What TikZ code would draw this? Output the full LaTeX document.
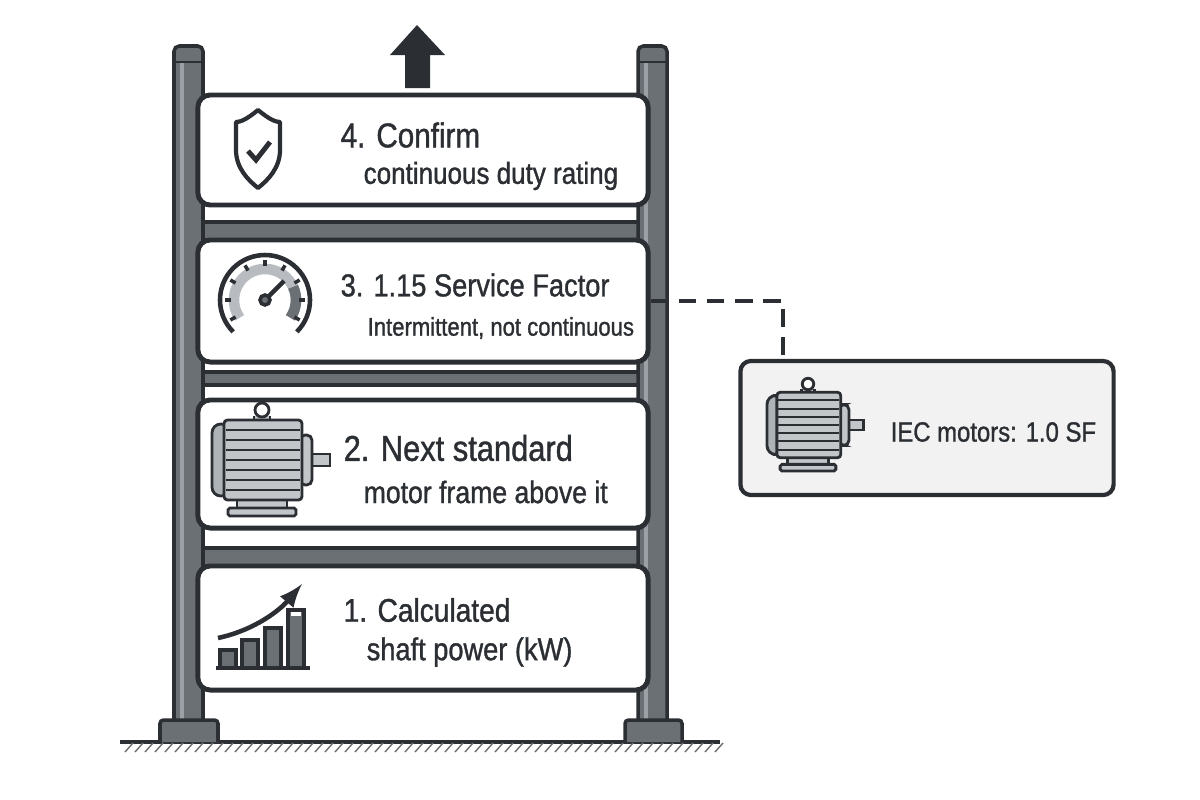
\documentclass[tikz,border=0pt]{standalone}
\usepackage{fontspec}
\setmainfont{Liberation Sans}[FakeStretch=0.86,FakeBold=1.1]
\usetikzlibrary{calc,positioning}
\definecolor{ink}{HTML}{2B2F33}
\definecolor{steel}{HTML}{6B7075}
\definecolor{steellight}{HTML}{9AA0A5}
\definecolor{boxgray}{HTML}{F2F2F2}
\tikzset{
  panel/.style={draw=ink,line width=1.4pt,fill=white,rounded corners=3.5pt,minimum width=4.5cm,minimum height=#1,inner sep=0},
  title/.style={anchor=west,text=ink,inner sep=0,font=\fontsize{#1}{10}\selectfont},
  sub/.style={anchor=west,text=ink,inner sep=0,font=\fontsize{#1}{9}\selectfont},
  post/.style={draw=ink,line width=1pt,fill=steel},
  motor/.pic={
    \draw[ink,line width=0.8pt,fill=steellight!60] (-8,-44) -- (-8,-40) -- (8,-40) -- (8,-44);
    \draw[ink,line width=0.8pt,fill=white] (0,-50) circle (7);
    \draw[ink,line width=0.8pt,fill=steellight!60] (-25,38) rectangle (25,48);
    \draw[ink,line width=0.8pt,fill=steellight!60,rounded corners=0.5pt] (-34,48) rectangle (34,56);
    \draw[ink,line width=0.8pt,fill=steellight!60] (48,-6) rectangle (68,6);
    \draw[ink,line width=0.8pt,fill=steellight!60,rounded corners=1.5pt] (38,-25) rectangle (50,25);
    \draw[ink,line width=0.8pt,fill=steellight!80,rounded corners=2.5pt] (-50,-36) rectangle (-32,36);
    \draw[ink,line width=0.8pt,fill=steellight!60,rounded corners=1pt] (-38,-40) rectangle (40,40);
    \foreach \f in {-30,-20,...,30}
      \draw[ink,line width=0.6pt] (-36,\f) -- (38,\f);
  }
}
\begin{document}
\begin{tikzpicture}[x=0.01cm,y=-0.01cm]
\useasboundingbox (0,0) rectangle (1200,800);

% ground
\draw[ink,line width=1pt] (120,742) -- (720,742);
\foreach \h in {125,135,...,715}
  \draw[ink!70,line width=0.4pt] (\h,752) -- (\h+8,743);

% up arrow
\fill[ink] (405,88) -- (405,55) -- (390,55) -- (417,25) -- (445,55) -- (430,55) -- (430,88) -- cycle;

% shelves and rungs
\foreach \a/\b/\c in {205/222/240,362/372/385,528/548/566}{
  \draw[ink,line width=0.8pt,fill=white] (200,\a) rectangle (640,\b);
  \draw[post] (200,\b) rectangle (640,\c);
}

% posts
\foreach \l/\r/\fl/\fr in {174/203/160/218,638/667/625/682}{
  \draw[post,rounded corners=1.5pt] (\l,725) -- (\l,46) -- (\r,46) -- (\r,725);
  \fill[steellight] (\l+6,62) rectangle (\l+10,720);
  \draw[ink,line width=0.8pt] (\l,62) -- (\r,62);
  \draw[post,rounded corners=1pt] (\fl,742) -- (\fl,720) -- (\fr,720) -- (\fr,742);
}

% panels
\node[panel=1.10cm] (p4) at (423,150) {};
\node[panel=1.22cm] (p3) at (423,301) {};
\node[panel=1.28cm] (p2) at (423,464) {};
\node[panel=1.24cm] (p1) at (423,628) {};

\node[title=9.8] (t4) at (340,135) {4. Confirm};
\node[sub=8.6] (s4) at (363,176) {continuous duty rating};
\node[title=9] (t3) at (340,285) {3. 1.15 Service Factor};
\node[sub=7.3] (s3) at (367,328) {Intermittent, not continuous};
\node[title=10.2] (t2) at (343,448) {2. Next standard};
\node[sub=8.8] (s2) at (363,492) {motor frame above it};
\node[title=9.3] (t1) at (343,610) {1. Calculated};
\node[sub=9] (s1) at (366,652) {shaft power (kW)};

% shield
\draw[ink,line width=1.2pt,line join=round] (258,110) .. controls (246,120) and (240,122) .. (236,122)
  -- (236,150) .. controls (236,168) and (248,180) .. (258,188)
  .. controls (268,180) and (280,168) .. (280,150) -- (280,122)
  .. controls (276,122) and (270,120) .. (258,110) -- cycle;
\draw[ink,line width=1.4pt] (248,151) -- (256,160) -- (270,142);

% gauge
\begin{scope}[shift={(265,300)},yscale=-1]
\draw[steellight!70,line width=3pt] (215:31) arc (215:-35:31);
\draw[steel,line width=3pt] (25:31) arc (25:-35:31);
\draw[ink,line width=1.3pt] (225:45) arc (225:-45:45);
\foreach \t in {210,180,...,-30}
  \draw[ink,line width=1pt] (\t:34) -- (\t:40);
\draw[ink,line width=1.3pt] (0,0) -- (45:27);
\draw[ink,line width=1pt,fill=steel] (0,0) circle (5);
\end{scope}

% motors
\pic at (262,460) {motor};

% chart
\foreach \x/\t in {220/650,242/640,265/628,288/610}
  \draw[ink,line width=0.9pt,fill=steel] (\x,668) rectangle (\x+16,\t);
\fill[white] (291,612) rectangle (301,616);
\draw[ink,line width=1pt] (216,668) -- (310,668);
\draw[ink,line width=1.3pt,-latex] (218,638) .. controls (255,630) and (280,610) .. (302,584);

% side box
\node[draw=ink,line width=1.2pt,fill=boxgray,rounded corners=3pt,minimum width=3.73cm,minimum height=1.34cm] (side) at (927,428) {};
\pic[scale=0.82] at (808,425) {motor};
\node[sub=7.9] (iec) at (890,432) {IEC motors: 1.0 SF};
\coordinate (bend) at (783,301);
\draw[ink,line width=0.9pt,dash pattern=on 5pt off 3pt] (p3.east) -- (bend) -- (bend |- side.north);
\end{tikzpicture}
\end{document}
